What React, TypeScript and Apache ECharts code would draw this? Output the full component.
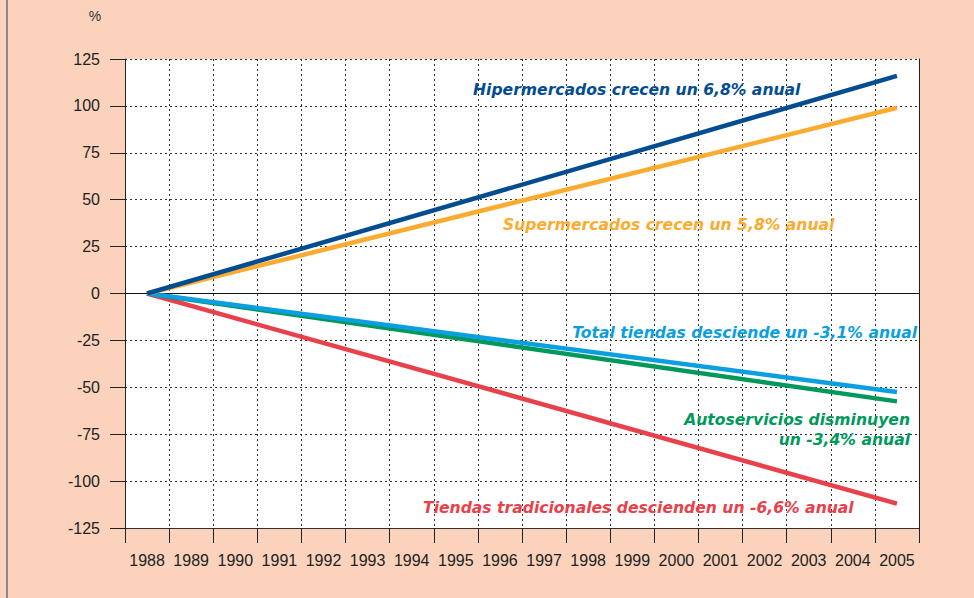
import React, { useEffect, useRef } from "react";
import * as echarts from "echarts";

const years = ["1988","1989","1990","1991","1992","1993","1994","1995","1996","1997","1998","1999","2000","2001","2002","2003","2004","2005"];
// Values read at start (1988) and end (2005); the reference draws straight lines between them
const hiperStart = 0, hiperEnd = 116;
const superStart = 0, superEnd = 99;
const totalStart = 0, totalEnd = -52.5;
const autoStart = 0, autoEnd = -57.5;
const tradStart = 0, tradEnd = -112;

const yTicks = { min: -125, max: 125, interval: 25 };

function ends(a: number, b: number) {
  return years.map((_, i) => (i === 0 ? a : i === years.length - 1 ? b : null));
}

const FONT = "'Liberation Sans', Arial, Helvetica, sans-serif";
const LFONT = "'DejaVu Sans', 'Liberation Sans', sans-serif";

export default function App() {
  const ref = useRef<HTMLDivElement>(null);
  useEffect(() => {
    const chart = echarts.init(ref.current!, null, { renderer: "svg" });
    const lineSeries = (name: string, data: (number | null)[], color: string, extra: any = {}) => ({
      name,
      type: "line",
      data,
      connectNulls: true,
      showSymbol: false,
      symbol: "none",
      lineStyle: { color, width: 4.5, cap: "butt" },
      z: 3,
      ...extra,
    });
    const label = (text: string, x: number, y: number, color: string, align = "left") => ({
      type: "text",
      x,
      y,
      style: {
        text,
        fill: color,
        font: `italic bold 15.6px ${LFONT}`,
        textAlign: align,
        textVerticalAlign: "middle",
      },
      z: 10,
    });
    chart.setOption({
      animation: false,
      backgroundColor: "#fbd3bc",
      grid: { left: 125, right: 55, top: 59, bottom: 70, show: true, backgroundColor: "#ffffff", borderWidth: 0 },
      xAxis: {
        type: "category",
        data: years,
        boundaryGap: true,
        axisLine: { show: true, onZero: false, lineStyle: { color: "#333", width: 1 } },
        axisTick: { show: true, length: 15, alignWithLabel: false, lineStyle: { color: "#222" } },
        axisLabel: { color: "#222", fontSize: 16, fontFamily: FONT, margin: 24, interval: 0 },
        splitLine: { show: true, lineStyle: { color: "#333", type: [2, 3], width: 1 } },
      },
      yAxis: [
        {
          type: "value",
          min: yTicks.min,
          max: yTicks.max,
          interval: yTicks.interval,
          axisLine: { show: true, lineStyle: { color: "#222", width: 1 } },
          axisTick: { show: true, length: 15, lineStyle: { color: "#222" } },
          axisLabel: { color: "#222", fontSize: 16, fontFamily: FONT, margin: 25 },
          splitLine: { show: true, lineStyle: { color: "#333", type: [2, 3], width: 1 } },
        },
        {
          type: "value",
          position: "right",
          min: yTicks.min,
          max: yTicks.max,
          interval: yTicks.interval,
          axisLine: { show: true, lineStyle: { color: "#222", width: 1 } },
          axisTick: { show: false },
          axisLabel: { show: false },
          splitLine: { show: false },
        },
      ],
      series: [
        lineSeries("Tiendas tradicionales", ends(tradStart, tradEnd), "#e8414a", {
          markLine: {
            silent: true,
            symbol: "none",
            label: { show: false },
            lineStyle: { color: "#111", type: "solid", width: 1 },
            data: [{ yAxis: 0 }],
            z: 2,
          },
        }),
        lineSeries("Autoservicios", ends(autoStart, autoEnd), "#00985b"),
        lineSeries("Total tiendas", ends(totalStart, totalEnd), "#0a9fe0"),
        lineSeries("Supermercados", ends(superStart, superEnd), "#fbab2f"),
        lineSeries("Hipermercados", ends(hiperStart, hiperEnd), "#024d92"),
      ],
      graphic: [
        { type: "rect", shape: { x: 6, y: 0, width: 2, height: 598 }, style: { fill: "#8f8786" }, z: 10 },
        {
          type: "text",
          x: 95,
          y: 16,
          style: { text: "%", fill: "#333", font: `14px ${FONT}`, textAlign: "center", textVerticalAlign: "middle" },
        },
        label("Hipermercados crecen un 6,8% anual", 473, 90, "#024d92"),
        label("Supermercados crecen un 5,8% anual", 503, 225, "#fbab2f"),
        label("Total tiendas desciende un -3,1% anual", 917, 333, "#0a9fe0", "right"),
        label("Autoservicios disminuyen", 910, 420, "#00985b", "right"),
        label("un -3,4% anual", 910, 440, "#00985b", "right"),
        label("Tiendas tradicionales descienden un -6,6% anual", 423, 508, "#e8414a"),
      ],
    });
    return () => chart.dispose();
  }, []);
  return (
    <div style={{ position: "absolute", left: 0, top: 0, width: 974, height: 598 }}>
      <div ref={ref} style={{ width: 974, height: 598 }} />
    </div>
  );
}
